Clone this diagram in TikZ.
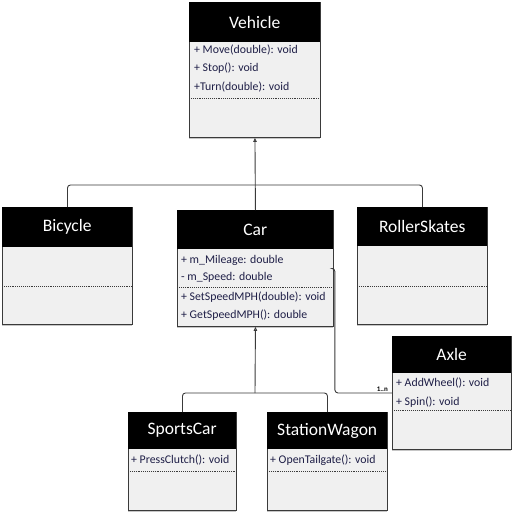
\documentclass[tikz,border=0pt]{standalone}
\usepackage{fontspec}
\setmainfont{Carlito}
\usepackage{tikz}
\usetikzlibrary{arrows.meta, positioning, shadows}

\definecolor{boxfill}{HTML}{F0F0F0}
\definecolor{boxline}{HTML}{3A3A3A}
\definecolor{membertext}{HTML}{1E1E46}

\begin{document}
\begin{tikzpicture}[
        x=1pt, y=-1pt,
        >=Stealth,
        classbox/.style={draw=boxline, line width=0.9pt, fill=boxfill, anchor=north west,
            inner sep=0pt, drop shadow={shadow xshift=0pt, shadow yshift=-2pt, opacity=0.45}},
        classhead/.style={fill=black, text=white, anchor=north west, inner sep=0pt,
            font=\fontsize{17.5}{20}\selectfont},
        member/.style={anchor=west, inner sep=0pt, text=membertext,
            font=\fontsize{11.8}{14}\selectfont},
        divider/.style={boxline, densely dotted, line width=0.9pt},
        link/.style={draw=boxline, line width=0.9pt, rounded corners=3pt},
        generalize/.style={link, -{Triangle[open, length=4pt, width=3.5pt]}},
        mult/.style={inner sep=1pt, font=\fontsize{7}{8}\selectfont\bfseries},
    ]

    \useasboundingbox (0,0) rectangle (512,512);

    % --- CLASS BOXES ---
    % Vehicle
    \node[classbox, minimum width=131, minimum height=135] (vehicle) at (189,2) {};
    \node[classhead, minimum width=131, minimum height=40] (vehicle-h) at (vehicle.north west) {Vehicle};
    \node[member] (vehicle-m1) at (194,50) {+ Move(double): void};
    \node[member] (vehicle-m2) at (194,68) {+ Stop(): void};
    \node[member] (vehicle-m3) at (194,87) {+Turn(double): void};
    \draw[divider] (189,98) -- (320,98);

    % Bicycle
    \node[classbox, minimum width=130, minimum height=117] (bicycle) at (2,207) {};
    \node[classhead, minimum width=130, minimum height=40] (bicycle-h) at (bicycle.north west) {Bicycle};
    \draw[divider] (2,286) -- (132,286);

    % Car
    \node[classbox, minimum width=156, minimum height=116] (car) at (177,210) {};
    \node[classhead, minimum width=156, minimum height=39] (car-h) at (car.north west) {Car};
    \node[member] (car-a1) at (181,260) {+ m\_Mileage: double};
    \node[member] (car-a2) at (181,277) {- m\_Speed: double};
    \draw[divider] (177,287) -- (333,287);
    \node[member] (car-m1) at (181,297) {+ SetSpeedMPH(double): void};
    \node[member] (car-m2) at (181,315) {+ GetSpeedMPH(): double};

    % RollerSkates
    \node[classbox, minimum width=130, minimum height=117] (rollerskates) at (357,207) {};
    \node[classhead, minimum width=130, minimum height=39] (rollerskates-h) at (rollerskates.north west) {RollerSkates};
    \draw[divider] (357,286) -- (487,286);

    % Axle
    \node[classbox, minimum width=119, minimum height=113] (axle) at (392,336) {};
    \node[classhead, minimum width=119, minimum height=37] (axle-h) at (axle.north west) {Axle};
    \node[member] (axle-m1) at (396,383) {+ AddWheel(): void};
    \node[member] (axle-m2) at (396,402) {+ Spin(): void};
    \draw[divider] (392,410) -- (511,410);

    % SportsCar
    \node[classbox, minimum width=108, minimum height=98] (sportscar) at (128,412) {};
    \node[classhead, minimum width=108, minimum height=37] (sportscar-h) at (sportscar.north west) {SportsCar};
    \node[member] (sportscar-m1) at (131,460) {+ PressClutch(): void};
    \draw[divider] (128,471) -- (236,471);

    % StationWagon
    \node[classbox, minimum width=120, minimum height=98] (stationwagon) at (267,412) {};
    \node[classhead, minimum width=120, minimum height=37] (stationwagon-h) at (stationwagon.north west) {StationWagon};
    \node[member] (stationwagon-m1) at (270,460) {+ OpenTailgate(): void};
    \draw[divider] (267,471) -- (387,471);

    % --- CONNECTORS ---
    % Vehicle hierarchy
    \coordinate (vbar) at (255,185);
    \draw[link] (bicycle.north) |- (vbar) -| (rollerskates.north);
    \draw[generalize] (car.north) -- (vehicle.south);

    % Car hierarchy
    \coordinate (cbar) at (255,393);
    \draw[link] (sportscar.north) |- (cbar) -| (stationwagon.north);
    \draw[generalize] (cbar) -- (car.south);

    % Car to Axle
    \draw[link] (car.east) -- ++(1,0) |- (axle.west);
    \node[mult, anchor=south east] (axle-mult) at ([xshift=-3pt]axle.west) {1..n};

\end{tikzpicture}
\end{document}
